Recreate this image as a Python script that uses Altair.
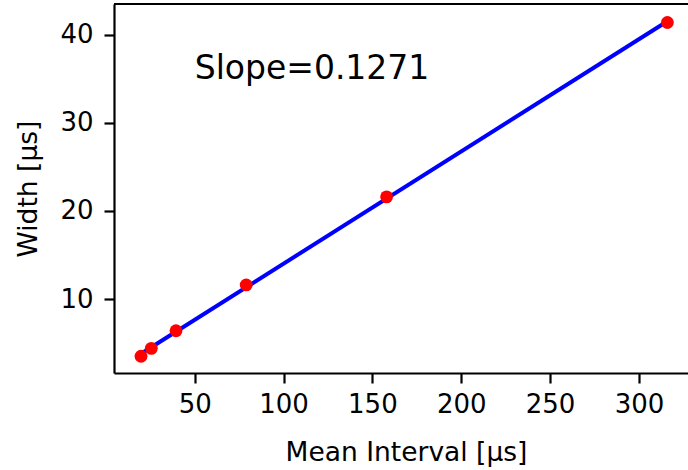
import altair as alt
import pandas as pd

# Data
mean_interval = [19.8, 25.6, 39.5, 79.0, 158.0, 316.0]
width_us = [3.5, 4.4, 6.4, 11.6, 21.6, 41.4]
x_ticks = [50, 100, 150, 200, 250, 300]
y_ticks = [10, 20, 30, 40]
slope_text = ["Slope=0.1271"]
slope_pos_x = [50]
slope_pos_y = [35]

df = pd.DataFrame({"x": mean_interval, "y": width_us})
ann = pd.DataFrame({"x": slope_pos_x, "y": slope_pos_y, "t": slope_text})

W, H = 574, 369
FONT = "DejaVu Sans"

xs = alt.Scale(domain=[4.6, 327.6], nice=False, zero=False)
ys = alt.Scale(domain=[1.6, 43.5], nice=False, zero=False)

xaxis = alt.Axis(values=x_ticks, title="Mean Interval [μs]", grid=False,
                 titleY=87, titleBaseline="alphabetic", titleX=292,
                 labelPadding=8)
yaxis = alt.Axis(values=y_ticks, title="Width [μs]", grid=False,
                 titleX=-78, titleBaseline="alphabetic", labelPadding=11)

base = alt.Chart(df)

line = base.transform_regression("x", "y").mark_line(
    color="#0000ff", strokeWidth=4, clip=True
).encode(
    x=alt.X("x:Q", scale=xs, axis=xaxis),
    y=alt.Y("y:Q", scale=ys, axis=yaxis),
)

pts = base.mark_circle(color="#ff0000", opacity=1, size=165).encode(
    x=alt.X("x:Q", scale=xs),
    y=alt.Y("y:Q", scale=ys),
)

txt = alt.Chart(ann).mark_text(
    align="left", baseline="alphabetic", font=FONT, fontSize=33, color="black"
).encode(
    x=alt.X("x:Q", scale=xs),
    y=alt.Y("y:Q", scale=ys),
    text="t:N",
)

top_spine = alt.Chart(ann).mark_rule(color="black", strokeWidth=2.2).encode(
    x=alt.value(0), x2=alt.value(W), y=alt.value(0)
)

chart = alt.layer(line, pts, txt, top_spine).properties(
    width=W, height=H,
    autosize=alt.AutoSizeParams(type="none"),
    padding={"left": 114, "top": 4, "right": 0, "bottom": 97},
).configure_view(stroke=None).configure_axis(
    domainColor="black", domainWidth=2.2, tickColor="black", tickWidth=2.2,
    tickSize=10, labelFont=FONT, labelFontSize=26, labelColor="black",
    titleFont=FONT, titleFontSize=26.5, titleFontWeight="normal", titleColor="black",
)

chart.save("out.html", embed_options={"renderer": "svg", "actions": False})
